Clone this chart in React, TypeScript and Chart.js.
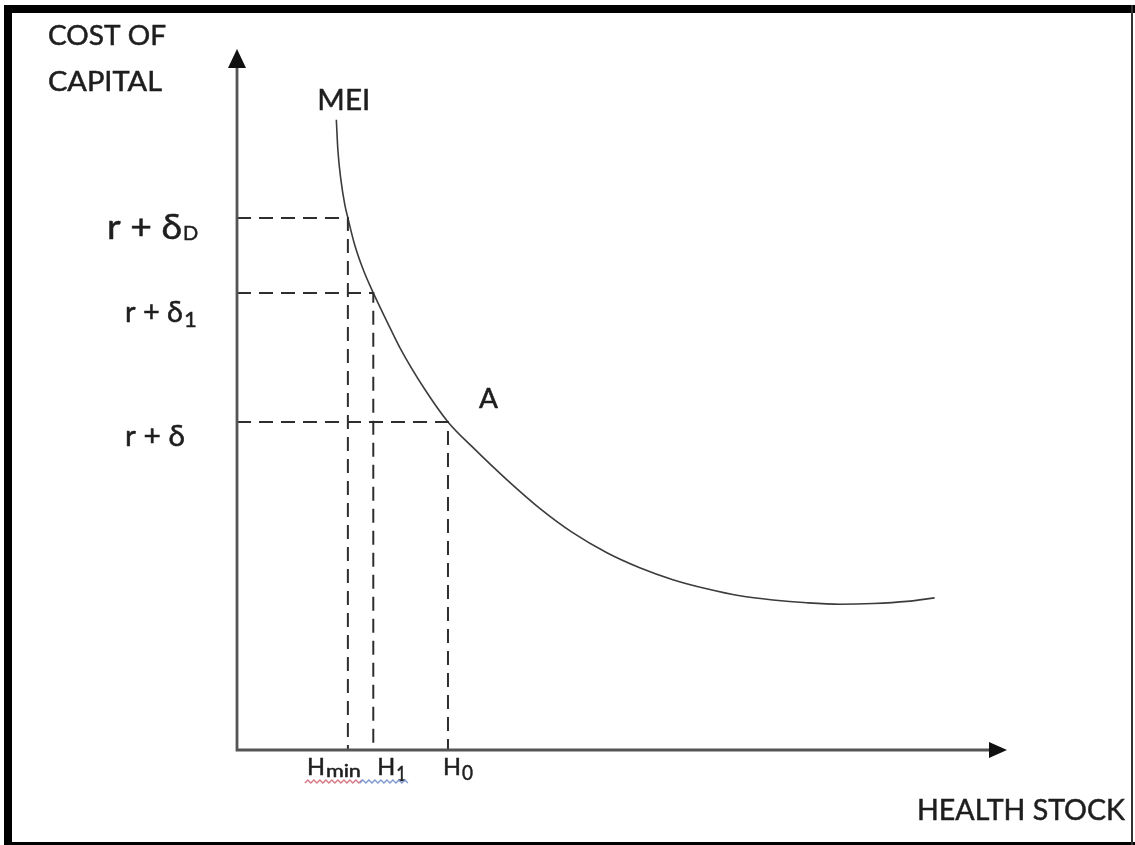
import { useEffect, useRef } from 'react';
import Chart from 'chart.js/auto';

// MEI curve (health stock vs. cost of capital), in chart units
const curveX = [12.9, 13.1, 13.5, 14.0, 14.4, 15.3, 16.4, 17.7, 19.4, 21.2, 24.3, 27.4, 30.6, 35.1, 39.4, 43.6, 48.1, 52.3, 56.6, 61.0, 65.3, 69.6, 74.0, 78.3, 82.6, 87.0, 90.6];
const curveY = [89.9, 85.6, 81.3, 77.8, 75.9, 72.0, 68.5, 65.2, 61.3, 57.3, 51.6, 46.8, 43.2, 38.5, 34.4, 31.0, 28.1, 26.0, 24.3, 23.0, 22.0, 21.4, 21.0, 20.8, 20.9, 21.2, 21.7];

// Health stock levels on the x axis
const hSubs = ['min', '1', '0'];
const hValues = [14.4, 17.7, 27.4];

// Cost of capital levels on the y axis
const costSubs = ['D', '1', ''];
const costValues = [75.9, 65.2, 46.8];

const yTitle = ['COST OF', 'CAPITAL'];
const xTitle = 'HEALTH STOCK';
const curveLabel = 'MEI';
const pointLabel = 'A';

const FONT = 'Lato, "Open Sans", "DejaVu Sans", sans-serif';
const INK = '#1e1e1e';

function drawText(ctx: CanvasRenderingContext2D, text: string, x: number, baseline: number, size: number, targetW?: number) {
  ctx.font = `${size}px ${FONT}`;
  const w = ctx.measureText(text).width;
  ctx.save();
  ctx.translate(x, baseline);
  if (targetW && w > 0) ctx.scale(targetW / w, 1);
  ctx.fillText(text, 0, 0);
  ctx.strokeStyle = INK;
  ctx.lineWidth = 0.5;
  ctx.strokeText(text, 0, 0);
  ctx.restore();
}

function wavy(ctx: CanvasRenderingContext2D, x1: number, x2: number, y: number, color: string) {
  ctx.save();
  ctx.strokeStyle = color;
  ctx.lineWidth = 1.4;
  ctx.beginPath();
  let up = true;
  ctx.moveTo(x1, y);
  for (let x = x1; x < x2; x += 3) {
    ctx.lineTo(x + 3, up ? y - 3 : y);
    up = !up;
  }
  ctx.stroke();
  ctx.restore();
}

const framePlugin = {
  id: 'frame',
  beforeDraw(chart: any) {
    const ctx = chart.ctx as CanvasRenderingContext2D;
    const W = chart.width, H = chart.height;
    ctx.save();
    ctx.fillStyle = '#ffffff';
    ctx.fillRect(0, 0, W, H);
    ctx.fillStyle = '#000000';
    ctx.fillRect(4, 5, W - 4, 8);
    ctx.fillRect(4, 5, 8, H - 5);
    ctx.fillRect(4, H - 3, W - 4, 3);
    ctx.fillStyle = '#333333';
    ctx.fillRect(W - 4, 5, 2, H - 5);
    ctx.restore();
  },
  afterDraw(chart: any) {
    const ctx = chart.ctx as CanvasRenderingContext2D;
    const xs = chart.scales.x, ys = chart.scales.y;
    const x0 = xs.getPixelForValue(0), y0 = ys.getPixelForValue(0);
    const xEnd = xs.getPixelForValue(xs.max), yEnd = ys.getPixelForValue(ys.max);
    ctx.save();
    // axes
    ctx.strokeStyle = '#555555';
    ctx.lineWidth = 2.8;
    ctx.beginPath();
    ctx.moveTo(x0, y0 + 1.4);
    ctx.lineTo(x0, yEnd + 14);
    ctx.moveTo(x0 - 1.4, y0);
    ctx.lineTo(xEnd - 14, y0);
    ctx.stroke();
    ctx.fillStyle = '#111111';
    ctx.beginPath();
    ctx.moveTo(x0, yEnd);
    ctx.lineTo(x0 - 9, yEnd + 19);
    ctx.lineTo(x0 + 9, yEnd + 19);
    ctx.closePath();
    ctx.fill();
    ctx.beginPath();
    ctx.moveTo(xEnd, y0);
    ctx.lineTo(xEnd - 18, y0 - 8);
    ctx.lineTo(xEnd - 18, y0 + 8);
    ctx.closePath();
    ctx.fill();

    ctx.fillStyle = INK;
    ctx.textBaseline = 'alphabetic';
    // titles
    drawText(ctx, yTitle[0], 48, 45, 26, 118);
    drawText(ctx, yTitle[1], 48, 91, 26, 114);
    drawText(ctx, xTitle, 917, 820, 28, 208);
    // curve labels
    const cx = xs.getPixelForValue(curveX[0]);
    const cy = ys.getPixelForValue(curveY[0]);
    drawText(ctx, curveLabel, cx - 19, cy - 10, 29, 53);
    const ax = xs.getPixelForValue(hValues[2]);
    const ay = ys.getPixelForValue(costValues[2]);
    drawText(ctx, pointLabel, ax + 31, ay - 14, 27, 19);

    // y labels
    const yLay = [
      { x: 107, dy: 21, size: 34, w: 75, subSize: 20, subDy: 22 },
      { x: 125, dy: 29, size: 28, w: 58, subSize: 22, subDy: 34 },
      { x: 125, dy: 24, size: 28, w: 60, subSize: 20, subDy: 28 },
    ];
    costValues.forEach((v, i) => {
      const py = ys.getPixelForValue(v);
      const L = yLay[i];
      drawText(ctx, 'r + δ', L.x, py + L.dy, L.size, L.w);
      if (costSubs[i]) drawText(ctx, costSubs[i], L.x + L.w + 1, py + L.subDy, L.subSize);
    });

    // x labels
    const xLay = [
      { dx: -41, subW: 35, subSize: 18, subDy: 27 },
      { dx: 4, subW: 10, subSize: 21, subDy: 31 },
      { dx: -5, subW: 11, subSize: 21, subDy: 30 },
    ];
    hValues.forEach((v, i) => {
      const px = xs.getPixelForValue(v);
      const L = xLay[i];
      drawText(ctx, 'H', px + L.dx, y0 + 25, 24, 18);
      drawText(ctx, hSubs[i], px + L.dx + 19, y0 + L.subDy, L.subSize, L.subW);
    });
    const hx = xs.getPixelForValue(hValues[0]);
    const h1 = xs.getPixelForValue(hValues[1]);
    wavy(ctx, hx - 43, hx + 12, y0 + 33, '#d77a86');
    wavy(ctx, hx + 12, h1 + 32, y0 + 33, '#7f9ad0');
    ctx.restore();
  },
};

export default function App() {
  const ref = useRef<HTMLCanvasElement>(null);
  useEffect(() => {
    document.body.style.margin = '0';
    const dashed = hValues.map((h, i) => ({
      data: [
        { x: 0, y: costValues[i] },
        { x: h, y: costValues[i] },
        { x: h, y: 0 },
      ],
      showLine: true,
      borderColor: '#2e2e2e',
      borderWidth: 2,
      borderDash: [14, 8],
      pointRadius: 0,
      tension: 0,
      clip: false as any,
    }));
    const chart = new Chart(ref.current!, {
      type: 'scatter',
      data: {
        datasets: [
          ...dashed,
          {
            data: curveX.map((x, i) => ({ x, y: curveY[i] })),
            showLine: true,
            borderColor: '#3c3c3c',
            borderWidth: 1.6,
            pointRadius: 0,
            cubicInterpolationMode: 'monotone',
            clip: false as any,
          } as any,
        ],
      },
      options: {
        responsive: false,
        animation: false,
        events: [],
        layout: { padding: { left: 237, top: 49, right: 128, bottom: 95 } },
        scales: {
          x: { type: 'linear', min: 0, max: 100, display: false },
          y: { type: 'linear', min: 0, max: 100, display: false },
        },
        plugins: { legend: { display: false }, tooltip: { enabled: false } },
      },
      plugins: [framePlugin],
    });
    return () => chart.destroy();
  }, []);
  return <canvas ref={ref} width={1135} height={845} style={{ display: 'block', width: 1135, height: 845 }} />;
}
